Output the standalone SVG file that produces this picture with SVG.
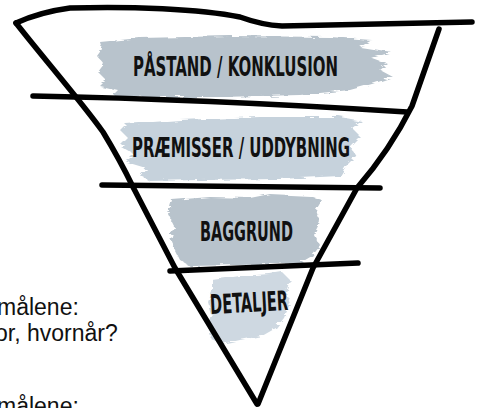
<svg xmlns="http://www.w3.org/2000/svg" width="479" height="408" viewBox="0 0 479 408">
<defs>
<style>
.brush{fill:#b8c3cc}
.brush2{fill:#c6d2dc}
.line{fill:none;stroke:#000;stroke-width:5.5;stroke-linecap:round;stroke-linejoin:round}
.lbl{font-family:"Liberation Sans Narrow","DejaVu Sans Condensed","Liberation Sans",sans-serif;font-weight:bold;font-size:27px;fill:#111}
.side{font-family:"Liberation Sans",Arial,sans-serif;font-size:23px;fill:#111}
</style>
<filter id="rough" x="-5%" y="-10%" width="110%" height="120%">
<feTurbulence type="fractalNoise" baseFrequency="0.06 0.4" numOctaves="2" seed="3"/>
<feDisplacementMap in="SourceGraphic" scale="6"/>
</filter>
</defs>
<rect width="479" height="408" fill="#fff"/>

<g id="side-text" class="side">
<text x="-3" y="315">målene:</text>
<text x="-5" y="341">or, hvornår?</text>
<text x="-3" y="414">målene:</text>
</g>

<g id="node-paastand">
<path class="brush" filter="url(#rough)" d="M100,42 L140,38 L230,36 L330,37 L372,40 L360,47 L392,52 L372,58 L388,64 L380,70 L393,77 L372,84 L350,90 L300,95 L220,97 L150,97 L112,96 L118,90 L100,86 L106,80 L98,72 L104,64 L97,56 L102,49 Z"/>
<text class="lbl" x="133" y="76" textLength="205" lengthAdjust="spacingAndGlyphs">PÅSTAND / KONKLUSION</text>
</g>

<g id="node-praemisser">
<path class="brush2" filter="url(#rough)" d="M126,124 L180,120 L260,117 L340,117 L362,121 L352,128 L360,136 L350,146 L356,156 L346,166 L340,176 L280,179 L200,180 L150,181 L140,176 L146,168 L126,162 L134,154 L120,146 L128,138 L120,130 Z"/>
<text class="lbl" x="132" y="157" textLength="218" lengthAdjust="spacingAndGlyphs">PRÆMISSER / UDDYBNING</text>
</g>

<g id="node-baggrund">
<path class="brush" filter="url(#rough)" d="M172,200 L210,197 L250,198 L270,194 L310,196 L322,200 L316,210 L320,222 L314,234 L320,246 L312,256 L300,263 L240,265 L190,266 L180,260 L175,250 L170,238 L174,226 L168,214 Z"/>
<text class="lbl" x="200" y="241" textLength="93" lengthAdjust="spacingAndGlyphs">BAGGRUND</text>
</g>

<g id="node-detaljer">
<path class="brush2" opacity="0.85" filter="url(#rough)" d="M212,280 L240,276 L270,274 L282,272 L290,280 L286,292 L290,304 L284,318 L276,328 L262,336 L240,340 L222,344 L212,340 L208,328 L212,316 L208,302 L212,292 Z"/>
<text class="lbl" x="210" y="312" textLength="78" lengthAdjust="spacingAndGlyphs" transform="rotate(-3 249 302)">DETALJER</text>
</g>

<g id="connectors">
<path class="line" d="M16,23 Q40,12 70,8 C130,6 200,9 240,17 Q262,25 282,26 L472,22"/>
<path class="line" d="M16,23 C45,60 80,100 103,132 Q120,160 133,187 L175,268 L257,404"/>
<path class="line" d="M439,29 L412,106 Q390,150 357,188 L313,268 L258,404"/>
<path class="line" d="M33,96 Q200,99 407,112"/>
<path class="line" d="M102,185 L380,188"/>
<path class="line" d="M170,271 L358,263"/>
</g>
</svg>
